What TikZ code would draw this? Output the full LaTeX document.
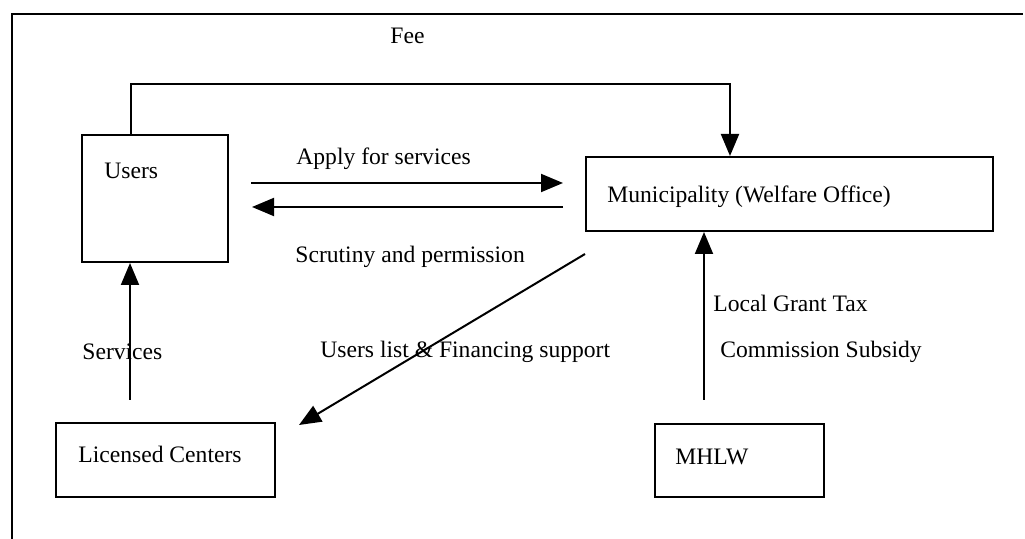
\documentclass[tikz,border=0pt]{standalone}
\usepackage{fontspec}
\setmainfont{Liberation Serif}
\usetikzlibrary{arrows.meta,fit}
\begin{document}
\begin{tikzpicture}[x=0.5pt,y=-0.5pt,
  box/.style={draw, line width=1pt, inner sep=0pt},
  lbl/.style={anchor=base west, inner sep=0pt, font=\fontsize{11.8pt}{14pt}\selectfont},
  flow/.style={line width=1pt, -{Triangle[length=11pt,width=9pt]}},
  frame/.style={line width=1pt}]
\useasboundingbox (0,0) rectangle (1025,539);

% outer frame
\draw[frame] (12,539) -- (12,14) -- (1023,14);

% boxes
\node[box, fit={(82,135) (228,262)}] (users) {};
\node[box, fit={(586,157) (993,231)}] (muni) {};
\node[box, fit={(56,423) (275,497)}] (centers) {};
\node[box, fit={(655,424) (824,497)}] (mhlw) {};

% box texts
\node[lbl] at (104,179) {Users};
\node[lbl] at (607,203) {Municipality (Welfare Office)};
\node[lbl] at (78,463) {Licensed Centers};
\node[lbl] at (675,465) {MHLW};

% connector end points
\coordinate (feeBase) at (131,0);
\coordinate (feeTurn) at (730,84);
\coordinate (applyA) at (251,183);
\coordinate (applyB) at (563,183);
\coordinate (scrA) at (563,207);
\coordinate (scrB) at (252,207);
\coordinate (listA) at (585,254);
\coordinate (listB) at (299,425);
\coordinate (servA) at (130,400);
\coordinate (grantA) at (704,400);

% connectors
\draw[flow] (users.north -| feeBase) |- (feeTurn) -- (feeTurn |- muni.north);
\draw[flow] (applyA) -- (applyB);
\draw[flow] (scrA) -- (scrB);
\draw[flow] (listA) -- (listB);
\draw[flow] (servA) -- (servA |- users.south);
\draw[flow] (grantA) -- (grantA |- muni.south);

% connector labels
\node[lbl] at (390,44) {Fee};
\node[lbl] at (296,165) {Apply for services};
\node[lbl] at (295,263) {Scrutiny and permission};
\node[lbl] at (82,360) {Services};
\node[lbl] at (320,358) {Users list \& Financing support};
\node[lbl] at (713,312) {Local Grant Tax};
\node[lbl] at (720,358) {Commission Subsidy};
\end{tikzpicture}
\end{document}
